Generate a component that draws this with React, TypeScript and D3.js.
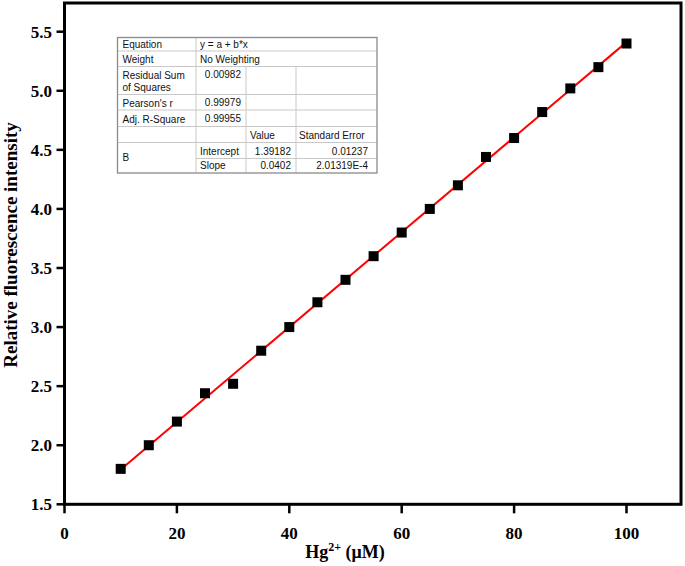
import React from "react";
import * as d3 from "d3";

const concentrations = [10, 15, 20, 25, 30, 35, 40, 45, 50, 55, 60, 65, 70, 75, 80, 85, 90, 95, 100];
const intensities = [1.8, 2.0, 2.2, 2.44, 2.52, 2.8, 3.0, 3.21, 3.4, 3.6, 3.8, 4.0, 4.2, 4.44, 4.6, 4.82, 5.02, 5.2, 5.4];
const fitIntercept = 1.39182;
const fitSlope = 0.0402;
const xTicks = [0, 20, 40, 60, 80, 100];
const yTicks = [1.5, 2.0, 2.5, 3.0, 3.5, 4.0, 4.5, 5.0, 5.5];

const W = 685;
const H = 566;
const left = 64.5;
const right = 681;
const top = 3;
const bottom = 504.3;

const x = d3.scaleLinear().domain([0, 100]).range([left, 626.5]);
const y = d3.scaleLinear().domain([1.5, 5.5]).range([bottom, 31.7]);

// table layout
const colX = [117.5, 196, 246, 296, 377];
const rowY = [37.5, 51, 66.5, 94.5, 110, 126.5, 142.5, 158.5, 173];

export default function App() {
  const lineGen = d3.line<number>().x((d) => x(d)).y((d) => y(fitIntercept + fitSlope * d));
  const fitXs = [concentrations[0], concentrations[concentrations.length - 1]];
  const serif = "'Liberation Serif', 'Times New Roman', serif";
  const sans = "'Liberation Sans', Arial, sans-serif";
  const grid = "#c8c8c8";
  const tfs = 10;
  const txt = (s: string, xx: number, yy: number, anchor: "start" | "end" | "middle" = "start") => (
    <text x={xx} y={yy} fontSize={tfs} fontFamily={sans} textAnchor={anchor} fill="#111">{s}</text>
  );
  return (
    <svg width={W} height={H} style={{ position: "absolute", left: 0, top: 0, background: "#fff" }}>
      <rect x={0} y={0} width={W} height={H} fill="#fff" />
      {/* table */}
      <g>
        <rect x={colX[0]} y={rowY[0]} width={colX[4] - colX[0]} height={rowY[8] - rowY[0]} fill="#fff" />
        {rowY.slice(1, 8).map((ry, i) => (
          <line key={"h" + i} x1={i + 1 === 7 ? colX[1] : colX[0]} x2={colX[4]} y1={ry} y2={ry} stroke={grid} strokeWidth={1} />
        ))}
        <line x1={colX[1]} x2={colX[1]} y1={rowY[0]} y2={rowY[8]} stroke={grid} />
        <line x1={colX[2]} x2={colX[2]} y1={rowY[2]} y2={rowY[8]} stroke={grid} />
        <line x1={colX[3]} x2={colX[3]} y1={rowY[2]} y2={rowY[8]} stroke={grid} />
        <rect x={colX[0]} y={rowY[0]} width={colX[4] - colX[0]} height={rowY[8] - rowY[0]} fill="none" stroke="#8a8a8a" strokeWidth={1.3} />
        {txt("Equation", colX[0] + 5, rowY[1] - 3)}
        {txt("y = a + b*x", colX[1] + 4, rowY[1] - 3.5)}
        {txt("Weight", colX[0] + 5, rowY[2] - 3.5)}
        {txt("No Weighting", colX[1] + 4, rowY[2] - 3.5)}
        {txt("Residual Sum", colX[0] + 5, rowY[2] + 12)}
        {txt("of Squares", colX[0] + 5, rowY[2] + 24.5)}
        {txt("0.00982", colX[2] - 5, rowY[2] + 11.5, "end")}
        {txt("Pearson's r", colX[0] + 5, rowY[4] - 3.5)}
        {txt("0.99979", colX[2] - 5, rowY[4] - 4.5, "end")}
        {txt("Adj. R-Square", colX[0] + 5, rowY[5] - 3.5)}
        {txt("0.99955", colX[2] - 5, rowY[5] - 4.5, "end")}
        {txt("Value", colX[2] + 4, rowY[6] - 4)}
        {txt("Standard Error", colX[3] + 3, rowY[6] - 4)}
        {txt("B", colX[0] + 5, (rowY[6] + rowY[8]) / 2 + 3.5)}
        {txt("Intercept", colX[1] + 4, rowY[7] - 4)}
        {txt("1.39182", colX[3] - 5, rowY[7] - 4, "end")}
        {txt("0.01237", colX[4] - 9, rowY[7] - 4, "end")}
        {txt("Slope", colX[1] + 4, rowY[8] - 4)}
        {txt("0.0402", colX[3] - 5, rowY[8] - 4, "end")}
        {txt("2.01319E-4", colX[4] - 9, rowY[8] - 4, "end")}
      </g>
      {/* fit line */}
      <path d={lineGen(fitXs) || ""} fill="none" stroke="#ff0000" strokeWidth={2} />
      {/* points */}
      {concentrations.map((c, i) => (
        <rect key={i} x={x(c) - 5} y={y(intensities[i]) - 5} width={10} height={10} fill="#000" />
      ))}
      {/* frame */}
      <rect x={left} y={top} width={right - left} height={bottom - top} fill="none" stroke="#000" strokeWidth={3} />
      {/* y ticks */}
      {yTicks.map((t) => (
        <g key={"y" + t}>
          <line x1={left - 8} x2={left} y1={y(t)} y2={y(t)} stroke="#000" strokeWidth={2.5} />
          <text x={52} y={y(t)} dy="0.35em" textAnchor="end" fontFamily={serif} fontWeight="bold" fontSize={17} fill="#000">
            {t.toFixed(1)}
          </text>
        </g>
      ))}
      {/* x ticks */}
      {xTicks.map((t) => (
        <g key={"x" + t}>
          <line x1={x(t)} x2={x(t)} y1={bottom} y2={bottom + 9} stroke="#000" strokeWidth={2.5} />
          <text x={x(t)} y={539} textAnchor="middle" fontFamily={serif} fontWeight="bold" fontSize={17} fill="#000">
            {t}
          </text>
        </g>
      ))}
      {/* axis titles */}
      <text
        transform={`translate(17, 245) rotate(-90)`}
        textAnchor="middle"
        fontFamily={serif}
        fontWeight="bold"
        fontSize={19}
        fill="#000"
      >
        Relative fluorescence intensity
      </text>
      <text x={345} y={557.5} textAnchor="middle" fontFamily={serif} fontWeight="bold" fontSize={18} fill="#000">
        Hg<tspan dy={-7} fontSize={12}>2+</tspan><tspan dy={7}> (μM)</tspan>
      </text>
    </svg>
  );
}
